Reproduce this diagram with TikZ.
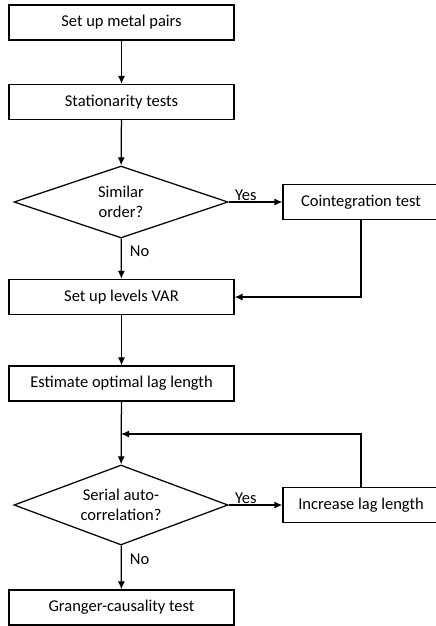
\documentclass[tikz,border=0pt]{standalone}
\usepackage{fontspec}
\setmainfont{Carlito}
\usetikzlibrary{shapes.geometric, arrows.meta}

\begin{document}
\begin{tikzpicture}[
x=1pt, y=-1pt,
line width=1.25pt,
>={Latex[length=8pt,width=7pt]},
every node/.style={
font=\fontsize{16.5}{20}\selectfont
},
box/.style={
draw,
align=center,
inner sep=0pt,
minimum width=225pt,
minimum height=35pt
},
sidebox/.style={
box,
minimum width=156pt
},
decision/.style={
draw,
diamond,
align=center,
inner sep=0pt,
aspect=3,
minimum width=214pt
}
]

\useasboundingbox (0,0) rectangle (436,626);

\node[box] (M) at (121.5,22.5)
{Set up metal pairs};

\node[box] (S) at (121.5,102)
{Stationarity tests};

\node[decision, minimum height=72pt] (O) at (121,202)
{Similar\\order?};

\node[sidebox] (C) at (361,202)
{Cointegration test};

\node[box] (V) at (121.5,297)
{Set up levels VAR};

\node[box] (E) at (121.5,383.5)
{Estimate optimal lag length};

\coordinate (J) at (121,434);

\node[decision, minimum height=80pt] (A) at (121,505)
{Serial auto-\\correlation?};

\node[sidebox] (I) at (361,505)
{Increase lag length};

\node[box] (G) at (121.5,607.5)
{Granger-causality test};

\draw[->] (M) -- (S);
\draw[->] (S) -- (O);
\draw[->] (O) -- node[above, pos=0.32, inner sep=1pt] {Yes} (C);
\draw[->] (O) -- node[right, pos=0.32, inner sep=8pt] {No} (V);
\draw[->] (C) |- (V);
\draw[->] (V) -- (E);
\draw[->] (E) -- (A);
\draw[->] (I) |- (J);
\draw[->] (A) -- node[above, pos=0.32, inner sep=1pt] {Yes} (I);
\draw[->] (A) -- node[right, pos=0.32, inner sep=8pt] {No} (G);

\end{tikzpicture}
\end{document}
